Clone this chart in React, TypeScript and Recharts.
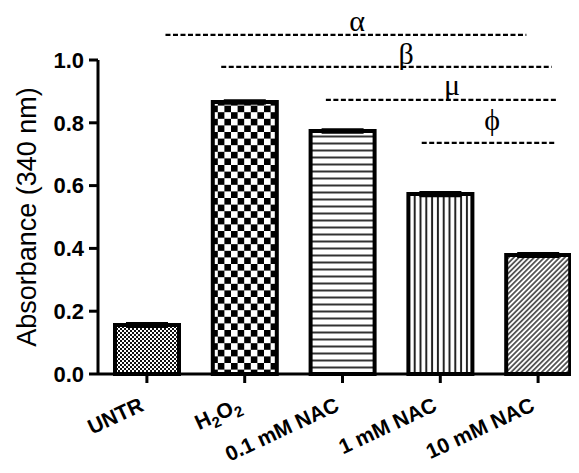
import React from 'react';
import {
  BarChart,
  Bar,
  XAxis,
  YAxis,
  Cell,
  ErrorBar,
  ReferenceLine,
  ReferenceDot
} from 'recharts';

const categories = ['UNTR', 'H2O2', '0.1 mM NAC', '1 mM NAC', '10 mM NAC'];
const absorbance = [0.156, 0.866, 0.774, 0.573, 0.379];
const sem = [0.005, 0.004, 0.004, 0.005, 0.005];
const yTicks = [0, 0.2, 0.4, 0.6, 0.8, 1.0];
const patterns = ['pat-fine', 'pat-check', 'pat-hlines', 'pat-vlines', 'pat-diag'];

// significance brackets, in group-index units (x) and absorbance (y)
const sigSymbols = ['α', 'β', 'μ', 'ϕ'];
const sigFrom = [0.19, 0.76, 1.83, 2.81];
const sigTo = [3.88, 4.14, 4.19, 4.19];
const sigLevel = [1.08, 0.978, 0.873, 0.736];
const sigLabelX = [2.15, 2.65, 3.12, 3.53];
const sigLabelY = [1.125, 1.022, 0.922, 0.81];

const data = categories.map((name, i) => ({
  name,
  idx: i,
  value: absorbance[i],
  err: sem[i]
}));

const FONT = '"Liberation Sans", Arial, sans-serif';

const XTick = ({ x, y, payload }: any) => {
  const label: string = payload.value;
  return (
    <g transform={`translate(${x - 2},${y + 25})`}>
      <text
        textAnchor="end"
        transform="rotate(-25)"
        fontSize={21}
        fontWeight="bold"
        fontFamily={FONT}
        fill="#000"
      >
        {label === 'H2O2' ? (
          <>
            <tspan>H</tspan>
            <tspan dy={5} fontSize={15}>2</tspan>
            <tspan dy={-5}>O</tspan>
            <tspan dy={5} fontSize={15}>2</tspan>
          </>
        ) : (
          label
        )}
      </text>
    </g>
  );
};

export default function App() {
  return (
    <div style={{ margin: -8, width: 579, height: 473, overflow: 'hidden', background: '#fff' }}>
      <BarChart
        width={600}
        height={473}
        data={data}
        margin={{ top: 60, right: 13, bottom: 0, left: 8 }}
        barSize={64}
      >
        <defs>
          <pattern id="pat-fine" patternUnits="userSpaceOnUse" width={4} height={4}>
            <rect width={4} height={4} fill="#fff" />
            <rect width={2} height={2} fill="#111" />
            <rect x={2} y={2} width={2} height={2} fill="#111" />
          </pattern>
          <pattern id="pat-check" patternUnits="userSpaceOnUse" width={13.2} height={13.2}>
            <rect width={13.2} height={13.2} fill="#fff" />
            <rect width={6.6} height={6.6} fill="#000" />
            <rect x={6.6} y={6.6} width={6.6} height={6.6} fill="#000" />
          </pattern>
          <pattern id="pat-hlines" patternUnits="userSpaceOnUse" width={7} height={7}>
            <rect width={7} height={7} fill="#fff" />
            <line x1={0} y1={3.5} x2={7} y2={3.5} stroke="#333" strokeWidth={2} />
          </pattern>
          <pattern id="pat-vlines" patternUnits="userSpaceOnUse" width={5.8} height={5.8}>
            <rect width={5.8} height={5.8} fill="#fff" />
            <line x1={2.9} y1={0} x2={2.9} y2={5.8} stroke="#222" strokeWidth={2} />
          </pattern>
          <pattern
            id="pat-diag"
            patternUnits="userSpaceOnUse"
            width={3.6}
            height={3.6}
            patternTransform="rotate(45)"
          >
            <rect width={3.6} height={3.6} fill="#fff" />
            <line x1={1.8} y1={0} x2={1.8} y2={3.6} stroke="#333" strokeWidth={1.5} />
          </pattern>
        </defs>
        <XAxis
          dataKey="name"
          height={99}
          interval={0}
          tick={<XTick />}
          tickSize={9}
          axisLine={{ stroke: '#000', strokeWidth: 3 }}
          tickLine={{ stroke: '#000', strokeWidth: 3 }}
        />
        <XAxis
          xAxisId="num"
          dataKey="idx"
          type="number"
          domain={[-0.5, 4.5]}
          allowDataOverflow
          hide
        />
        <YAxis
          width={90}
          domain={[0, 1]}
          ticks={yTicks}
          interval={0}
          tickFormatter={(v: number) => v.toFixed(1)}
          tickSize={9}
          tickMargin={5}
          axisLine={{ stroke: '#000', strokeWidth: 3 }}
          tickLine={{ stroke: '#000', strokeWidth: 3 }}
          tick={{ fill: '#000', fontSize: 22, fontWeight: 'bold', fontFamily: FONT }}
          label={{
            value: 'Absorbance (340 nm)',
            angle: -90,
            position: 'insideLeft',
            offset: 18,
            fill: '#000',
            fontSize: 27,
            fontFamily: FONT,
            style: { textAnchor: 'middle' }
          }}
        />
        <Bar dataKey="value" stroke="#000" strokeWidth={4} isAnimationActive={false}>
          {data.map((entry, index) => (
            <Cell key={`cell-${index}`} fill={`url(#${patterns[index]})`} />
          ))}
          <ErrorBar dataKey="err" width={21} stroke="#000" strokeWidth={3} direction="y" />
        </Bar>
        {sigSymbols.map((s, i) => (
          <ReferenceLine
            key={`sig-line-${s}`}
            xAxisId="num"
            ifOverflow="visible"
            segment={[
              { x: sigFrom[i], y: sigLevel[i] },
              { x: sigTo[i], y: sigLevel[i] }
            ]}
            stroke="#000"
            strokeWidth={2.2}
            strokeDasharray="5 2.5"
          />
        ))}
        {sigSymbols.map((s, i) => (
          <ReferenceDot
            key={`sig-label-${s}`}
            xAxisId="num"
            ifOverflow="visible"
            x={sigLabelX[i]}
            y={sigLabelY[i]}
            r={0}
            fill="none"
            stroke="none"
            label={{
              value: s,
              position: 'center',
              fill: '#000',
              fontSize: 30,
              fontFamily: '"Liberation Serif", "Times New Roman", serif'
            }}
          />
        ))}
      </BarChart>
    </div>
  );
}
